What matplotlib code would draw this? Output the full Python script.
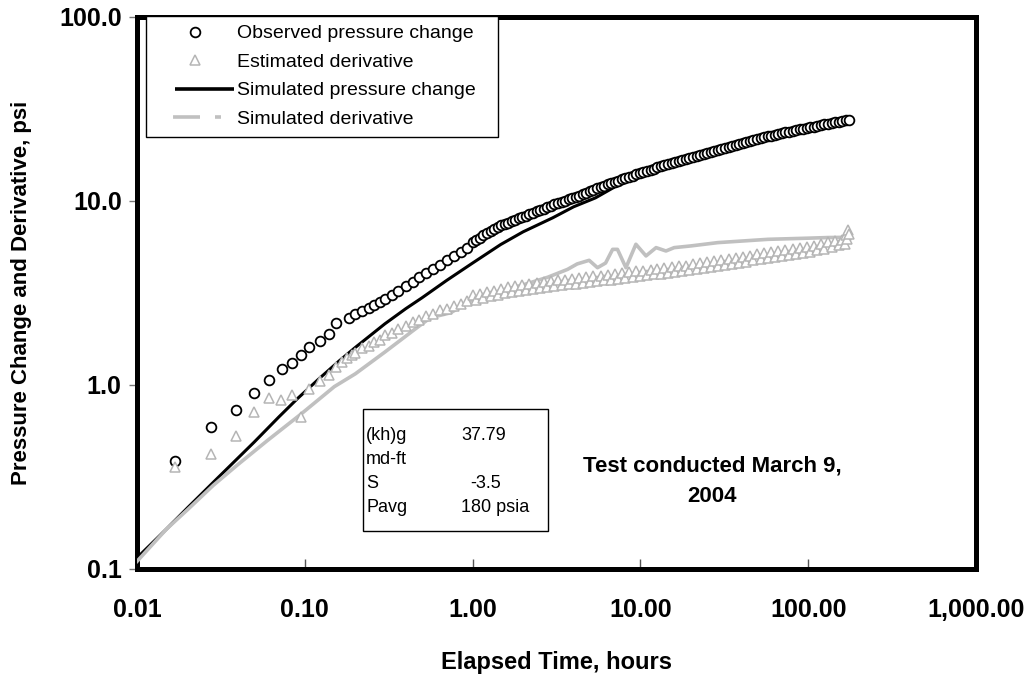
import matplotlib
matplotlib.use("Agg")
import matplotlib.pyplot as plt
from matplotlib.lines import Line2D
from matplotlib.patches import Rectangle
from matplotlib.ticker import FixedLocator, FixedFormatter, NullLocator

plt.rcParams.update({"font.family": ["Liberation Sans", "DejaVu Sans"],
                     "lines.scale_dashes": False})

# ---- values --------------------------------------------------------------
# observed pressure change (psi) vs elapsed time (hours)
obs_t = [0.0169, 0.0275, 0.039, 0.0499, 0.061, 0.0729, 0.0836, 0.0947, 0.1066,
         0.1228, 0.14, 0.154, 0.183, 0.20, 0.22, 0.24, 0.26, 0.28, 0.30, 0.33,
         0.36, 0.40, 0.44, 0.48, 0.53, 0.58, 0.64, 0.70, 0.77, 0.85, 0.93,
         1.0, 1.05, 1.1, 1.16, 1.22, 1.28, 1.34, 1.41, 1.48, 1.55, 1.63, 1.71,
         1.8, 1.89, 1.98, 2.08, 2.18, 2.29, 2.41, 2.53, 2.65, 2.79, 2.93, 3.07,
         3.23, 3.39, 3.56, 3.73, 3.92, 4.12, 4.32, 4.54, 4.76, 5.0, 5.25, 5.52,
         5.79, 6.08, 6.39, 6.7, 7.04, 7.39, 7.76, 8.15, 8.56, 8.98, 9.43, 9.9,
         10.4, 10.9, 11.5, 12.0, 12.6, 13.3, 13.9, 14.6, 15.4, 16.1, 16.9, 17.8,
         18.7, 19.6, 20.6, 21.6, 22.7, 23.8, 25.0, 26.3, 27.6, 29.0, 30.4, 31.9,
         33.5, 35.2, 37.0, 38.8, 40.8, 42.8, 44.9, 47.2, 49.5, 52.0, 54.6, 57.3,
         60.2, 63.2, 66.4, 69.7, 73.2, 76.8, 80.7, 84.7, 88.9, 93.4, 98.0, 103,
         108, 113, 119, 125, 131, 138, 145, 152, 160, 168, 175]
obs_p = [0.384, 0.588, 0.731, 0.90, 1.065, 1.22, 1.31, 1.45, 1.60,
         1.73, 1.90, 2.18, 2.30, 2.42, 2.52, 2.62, 2.72, 2.83, 2.95, 3.10,
         3.26, 3.45, 3.65, 3.84, 4.06, 4.27, 4.51, 4.75, 5.01, 5.29, 5.56,
         6.00, 6.17, 6.33, 6.52, 6.70, 6.87, 7.03, 7.20, 7.37, 7.50, 7.64, 7.77,
         7.91, 8.04, 8.17, 8.33, 8.48, 8.63, 8.80, 8.95, 9.10, 9.27, 9.43, 9.58,
         9.74, 9.90, 10.06, 10.21, 10.37, 10.54, 10.71, 10.91, 11.10, 11.30, 11.50, 11.70,
         11.90, 12.10, 12.31, 12.51, 12.72, 12.92, 13.13, 13.34, 13.54, 13.74, 13.95, 14.16,
         14.37, 14.58, 14.82, 15.01, 15.23, 15.47, 15.66, 15.88, 16.12, 16.32, 16.53, 16.76,
         16.98, 17.19, 17.41, 17.62, 17.84, 18.07, 18.31, 18.56, 18.79, 19.04, 19.27, 19.51,
         19.75, 19.99, 20.23, 20.47, 20.71, 20.95, 21.18, 21.43, 21.68, 21.93, 22.19, 22.44,
         22.69, 22.95, 23.20, 23.44, 23.66, 23.86, 24.08, 24.28, 24.49, 24.70, 24.91, 25.15,
         25.38, 25.61, 25.86, 26.10, 26.33, 26.56, 26.78, 26.99, 27.21, 27.42, 27.60]

# estimated derivative (psi)
der_t = [0.0169, 0.0275, 0.039, 0.0499, 0.061, 0.0725, 0.0836, 0.0947, 0.1066,
         0.1228, 0.14, 0.154, 0.166, 0.178, 0.19, 0.20, 0.22, 0.24, 0.26, 0.28,
         0.30, 0.33, 0.36, 0.40, 0.44, 0.48, 0.53, 0.58, 0.64, 0.70, 0.77, 0.85,
         0.93, 1.0, 1.05, 1.1, 1.16, 1.22, 1.28, 1.34, 1.41, 1.48, 1.55, 1.63,
         1.71, 1.8, 1.89, 1.98, 2.08, 2.18, 2.29, 2.41, 2.53, 2.65, 2.79, 2.93,
         3.07, 3.23, 3.39, 3.56, 3.73, 3.92, 4.12, 4.32, 4.54, 4.76, 5.0, 5.25,
         5.52, 5.79, 6.08, 6.39, 6.7, 7.04, 7.39, 7.76, 8.15, 8.56, 8.98, 9.43,
         9.9, 10.4, 10.9, 11.5, 12.0, 12.6, 13.3, 13.9, 14.6, 15.4, 16.1, 16.9,
         17.8, 18.7, 19.6, 20.6, 21.6, 22.7, 23.8, 25.0, 26.3, 27.6, 29.0, 30.4,
         31.9, 33.5, 35.2, 37.0, 38.8, 40.8, 42.8, 44.9, 47.2, 49.5, 52.0, 54.6,
         57.3, 60.2, 63.2, 66.4, 69.7, 73.2, 76.8, 80.7, 84.7, 88.9, 93.4, 98.0,
         103, 108, 113, 119, 125, 131, 138, 145, 152, 160, 165, 168, 170, 172, 175]
der_p = [0.36, 0.42, 0.53, 0.71, 0.85, 0.83, 0.885, 0.667, 0.955,
         1.055, 1.13, 1.26, 1.33, 1.40, 1.45, 1.49, 1.58, 1.63, 1.72, 1.76,
         1.86, 1.92, 2.02, 2.08, 2.20, 2.26, 2.37, 2.42, 2.55, 2.58, 2.70, 2.74,
         2.86, 3.07, 2.90, 3.14, 2.97, 3.20, 3.03, 3.26, 3.10, 3.33, 3.15, 3.39,
         3.20, 3.46, 3.25, 3.51, 3.29, 3.54, 3.33, 3.58, 3.37, 3.63, 3.40, 3.66,
         3.45, 3.70, 3.48, 3.74, 3.52, 3.78, 3.55, 3.82, 3.59, 3.86, 3.63, 3.89,
         3.67, 3.93, 3.71, 3.98, 3.74, 4.02, 3.78, 4.06, 3.82, 4.10, 3.86, 4.14,
         3.90, 4.19, 3.94, 4.23, 3.99, 4.27, 4.03, 4.32, 4.07, 4.38, 4.12, 4.42,
         4.17, 4.46, 4.21, 4.53, 4.25, 4.58, 4.31, 4.64, 4.37, 4.70, 4.42, 4.76,
         4.48, 4.82, 4.55, 4.89, 4.60, 4.96, 4.67, 5.05, 4.75, 5.12, 4.82, 5.19,
         4.90, 5.27, 4.96, 5.34, 5.02, 5.42, 5.09, 5.48, 5.15, 5.54, 5.20, 5.60,
         5.30, 5.71, 5.40, 5.84, 5.51, 5.97, 5.63, 6.05, 5.75, 6.15, 5.85, 6.55, 6.25, 6.95, 6.65]

# simulated pressure change (psi)
sim_t = [0.01, 0.015, 0.02, 0.03, 0.05, 0.07, 0.09, 0.12, 0.16, 0.2, 0.3, 0.4,
         0.5, 0.7, 1.0, 1.47, 2.0, 3.0, 4.0, 5.4, 7.0, 9.0, 12.0, 20.0, 40.0,
         69.0, 100.0, 140.0, 175.0]
sim_p = [0.115, 0.165, 0.215, 0.31, 0.49, 0.67, 0.84, 1.07, 1.35, 1.6, 2.15, 2.6,
         2.98, 3.7, 4.6, 5.8, 6.8, 8.1, 9.3, 10.4, 11.9, 13.3, 14.9, 17.1, 20.5,
         23.2, 24.8, 26.4, 27.5]

# simulated derivative (psi)
simd_t = [0.01, 0.015, 0.02, 0.0285, 0.04, 0.06, 0.094, 0.15, 0.2, 0.3, 0.45,
          0.56, 0.74, 1.0, 1.47, 2.0, 2.8, 3.68, 4.2, 4.95, 5.55, 6.2, 6.83, 7.3,
          8.2, 9.4, 10.8, 12.4, 14.2, 15.9, 20.0, 28.9, 57.5, 100.0, 131.0, 170.0]
simd_p = [0.11, 0.165, 0.21, 0.285, 0.37, 0.50, 0.69, 0.98, 1.15, 1.51, 2.0,
          2.32, 2.47, 2.9, 3.25, 3.5, 3.85, 4.25, 4.55, 4.76, 4.34, 4.6, 5.46, 5.46,
          4.34, 5.82, 5.03, 5.58, 5.35, 5.58, 5.7, 5.94, 6.19, 6.28, 6.33, 6.35]

x_ticks = [0.01, 0.1, 1, 10, 100, 1000]
x_labels = ["0.01", "0.10", "1.00", "10.00", "100.00", "1,000.00"]
y_ticks = [0.1, 1, 10, 100]
y_labels = ["0.1", "1.0", "10.0", "100.0"]

legend_labels = ["Observed pressure change", "Estimated derivative",
                 "Simulated pressure change", "Simulated derivative"]
box_names = ["(kh)g", "md-ft", "S", "Pavg"]
box_values = ["37.79", "", "-3.5", "180 psia"]

# ---- figure ---------------------------------------------------------------
W, H = 1032, 674
fig = plt.figure(figsize=(W / 100, H / 100), dpi=100)
ax = fig.add_axes([137 / W, 1 - 569 / H, (976 - 137) / W, (569 - 17) / H])
ax.set_xscale("log")
ax.set_yscale("log")
ax.set_xlim(0.01, 1000)
ax.set_ylim(0.1, 100)

ax.plot(sim_t, sim_p, color="black", lw=2.2, zorder=2)
ax.plot(simd_t, simd_p, color="#c0c0c0", lw=2.6, zorder=3)
ax.plot(obs_t, obs_p, ls="none", marker="o", mfc="white", mec="black",
        ms=7, mew=1.3, zorder=4)
ax.plot(der_t, der_p, ls="none", marker="^", mfc="white", mec="#b5b5b5",
        ms=7, mew=1.1, zorder=5)

for s in ax.spines.values():
    s.set_linewidth(3.6)
    s.set_color("black")

ax.xaxis.set_major_locator(FixedLocator(x_ticks))
ax.xaxis.set_major_formatter(FixedFormatter(x_labels))
ax.xaxis.set_minor_locator(NullLocator())
ax.yaxis.set_major_locator(FixedLocator(y_ticks))
ax.yaxis.set_major_formatter(FixedFormatter(y_labels))
ax.yaxis.set_minor_locator(NullLocator())
ax.tick_params(axis="x", direction="in", length=7, width=1, color="#555555",
               pad=21, labelsize=18)
ax.tick_params(axis="y", direction="out", length=6, width=1, color="#777777",
               pad=5, labelsize=18)
for lab in ax.get_xticklabels() + ax.get_yticklabels():
    lab.set_fontweight("bold")

ax.set_xlabel("Elapsed Time, hours", fontsize=17, fontweight="bold")
ax.set_ylabel("Pressure Change and Derivative, psi", fontsize=16, fontweight="bold")
ax.xaxis.set_label_coords(0.5, (569 - 662) / 552)
ax.xaxis.label.set_va("center")
ax.yaxis.set_label_coords((22 - 137) / 839, 0.5)
ax.yaxis.label.set_va("center")

handles = [
    Line2D([], [], ls="none", marker="o", mfc="white", mec="black", ms=7, mew=1.3),
    Line2D([], [], ls="none", marker="^", mfc="white", mec="#b5b5b5", ms=7, mew=1.1),
    Line2D([], [], color="black", lw=2.6, ls=(0, (0, 14.4, 43.9, 60))),
    Line2D([], [], color="#c0c0c0", lw=2.6, ls=(0, (0, 13, 19.4, 10.8, 4.3, 60))),
]
leg = ax.legend(handles, legend_labels, loc="upper left",
                bbox_to_anchor=(146 / W, 1 - 134 / H, 352 / W, 118 / H),
                bbox_transform=fig.transFigure, mode="expand",
                fontsize=14, frameon=True, fancybox=False, framealpha=1,
                edgecolor="black", handlelength=4.1, handletextpad=0.12,
                borderaxespad=0, borderpad=0.45, labelspacing=0.56)
leg.get_frame().set_linewidth(1.0)
leg.set_zorder(10)

# parameter box
fig.patches.append(Rectangle((363 / W, 1 - 531 / H), 185 / W, 122 / H,
                             transform=fig.transFigure, fill=True, facecolor="white",
                             edgecolor="black", linewidth=1.0, zorder=6))
row_y = [435, 459, 483, 507]
for name, val, yy in zip(box_names, box_values, row_y):
    fig.text(366 / W, 1 - yy / H, name, fontsize=13, va="center", ha="left", zorder=7)
    if val:
        vx = 470 if val.startswith("-") else 461
        fig.text(vx / W, 1 - yy / H, val, fontsize=13, va="center", ha="left", zorder=7)

fig.text(712 / W, 1 - 466 / H, "Test conducted March 9,", fontsize=16,
         fontweight="bold", ha="center", va="center")
fig.text(712 / W, 1 - 497 / H, "2004", fontsize=16, fontweight="bold",
         ha="center", va="center")

fig.savefig("out.png", dpi=100)
